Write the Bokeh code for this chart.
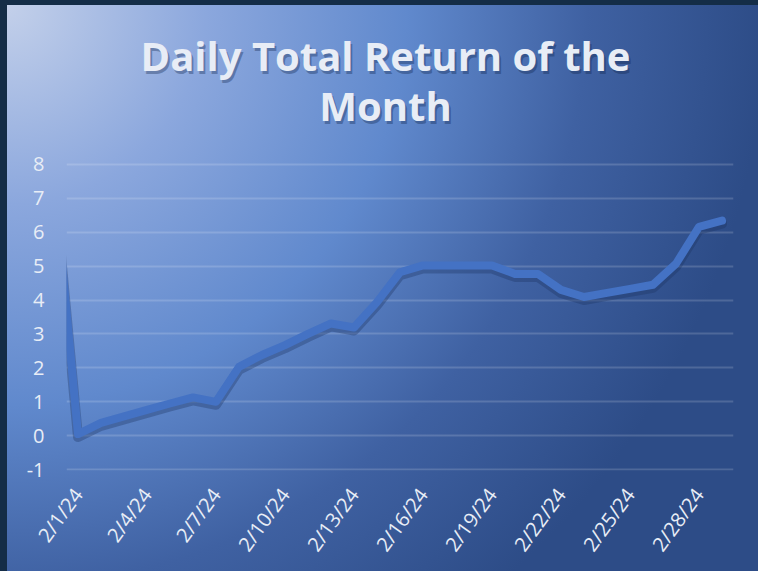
import math
from bokeh.plotting import figure
from bokeh.models import Range1d, FixedTicker, Label, ColumnDataSource
from bokeh.embed import file_html
from bokeh.resources import INLINE

# ---- data ----
dates = ["1/31/24",
         "2/1/24", "2/2/24", "2/3/24", "2/4/24", "2/5/24", "2/6/24", "2/7/24",
         "2/8/24", "2/9/24", "2/10/24", "2/11/24", "2/12/24", "2/13/24", "2/14/24",
         "2/15/24", "2/16/24", "2/17/24", "2/18/24", "2/19/24", "2/20/24", "2/21/24",
         "2/22/24", "2/23/24", "2/24/24", "2/25/24", "2/26/24", "2/27/24", "2/28/24",
         "2/29/24"]
returns = [7.3,
           0.05, 0.38, 0.57, 0.76, 0.95, 1.13, 1.00,
           2.03, 2.38, 2.67, 3.00, 3.31, 3.19, 3.94,
           4.82, 5.02, 5.02, 5.02, 5.02, 4.77, 4.77,
           4.30, 4.09, 4.21, 4.33, 4.45, 5.07, 6.16,
           6.34]
tick_labels = ["2/1/24", "2/4/24", "2/7/24", "2/10/24", "2/13/24",
               "2/16/24", "2/19/24", "2/22/24", "2/25/24", "2/28/24"]
y_ticks = [-1, 0, 1, 2, 3, 4, 5, 6, 7, 8]
title_lines = ["Daily Total Return of the", "Month"]

# positions: index of each date, with 2/1/24 at 0
pos = [i - dates.index("2/1/24") for i in range(len(dates))]
src = ColumnDataSource(dict(x=pos, y=returns))
tick_pos = [dates.index(t) - dates.index("2/1/24") for t in tick_labels]

FONT = "Open Sans"
TXT = "#e8edf6"

# layout constants (pixels); the plotting frame reaches the top edge so the
# title can be drawn inside it
W, H = 758, 571
LEFT, RIGHT, BOTTOM = 66, 25, 101
GRID_TOP = 163                      # pixel row of the top gridline
TITLE_ROWS = [55, 105]              # pixel rows of the title lines
TITLE_COL = 385                     # pixel column of the title centre
PAD = 0.025
x0, x1 = -0.5, len(dates) - 1.5
frame_w = W - LEFT - RIGHT
frame_h = H - BOTTOM
px_x = frame_w / (x1 - x0)
y0 = min(y_ticks) - PAD
px_y = (frame_h - GRID_TOP) / (max(y_ticks) + PAD - y0)
y1 = y0 + frame_h / px_y

p = figure(width=W, height=H, output_backend="svg", toolbar_location=None,
           title=None,
           x_range=Range1d(x0, x1), y_range=Range1d(y0, y1),
           min_border_left=LEFT, min_border_right=RIGHT, min_border_top=0,
           min_border_bottom=BOTTOM)

p.background_fill_alpha = 0
p.border_fill_alpha = 0
p.outline_line_color = None
p.styles = {
    "background": "radial-gradient(circle at 7px 5px, #c3d0ea 0px, #8ba7dd 200px, "
                  "#6089cd 400px, #3f61a2 580px, #2d4c87 760px)",
    "box-shadow": "inset 7px 5px 0 0 #142d47",
}

# title: two centred lines with a soft drop shadow
title_cx = x0 + (TITLE_COL - LEFT) / px_x
for txt, row in zip(title_lines, TITLE_ROWS):
    cy = y1 - row / px_y
    for dx, dy, col, alpha in [(2, -3, "#10244a", 0.35), (0, 0, TXT, 1.0)]:
        p.add_layout(Label(x=title_cx, y=cy, text=txt, x_offset=dx, y_offset=dy,
                           text_align="center", text_baseline="middle",
                           text_font=FONT, text_font_size="40px",
                           text_font_style="bold", text_color=col,
                           text_alpha=alpha))

# line shadow via slightly shifted range
p.extra_y_ranges = {"shadow": Range1d(y0 + 3.0 / px_y, y1 + 3.0 / px_y)}
p.line("x", "y", source=src, y_range_name="shadow", line_color="#1c3360",
       line_alpha=0.35, line_width=10, line_join="round", line_cap="round")
p.line("x", "y", source=src, line_color="#4472c4", line_width=8,
       line_join="round", line_cap="round")

# axes
for ax in (p.xaxis[0], p.yaxis[0]):
    ax.axis_line_color = None
    ax.major_tick_line_color = None
    ax.minor_tick_line_color = None
    ax.major_tick_out = 0
    ax.major_tick_in = 0
    ax.major_label_text_font = FONT
    ax.major_label_text_color = TXT

p.xaxis.major_label_text_font_size = "20px"
p.yaxis.major_label_text_font_size = "20px"

p.xaxis.ticker = FixedTicker(ticks=tick_pos)
p.xaxis.major_label_overrides = {tp: lab for tp, lab in zip(tick_pos, tick_labels)}
p.xaxis.major_label_orientation = math.radians(54)
p.xaxis.major_label_standoff = 20

p.yaxis.ticker = FixedTicker(ticks=y_ticks)
p.yaxis.major_label_overrides = {t: str(t) for t in y_ticks}
p.yaxis.major_label_standoff = 22

p.xgrid.visible = False
p.ygrid.grid_line_color = "#ffffff"
p.ygrid.grid_line_alpha = 0.16
p.ygrid.grid_line_width = 2

open("out.html", "w").write(file_html(p, INLINE))
